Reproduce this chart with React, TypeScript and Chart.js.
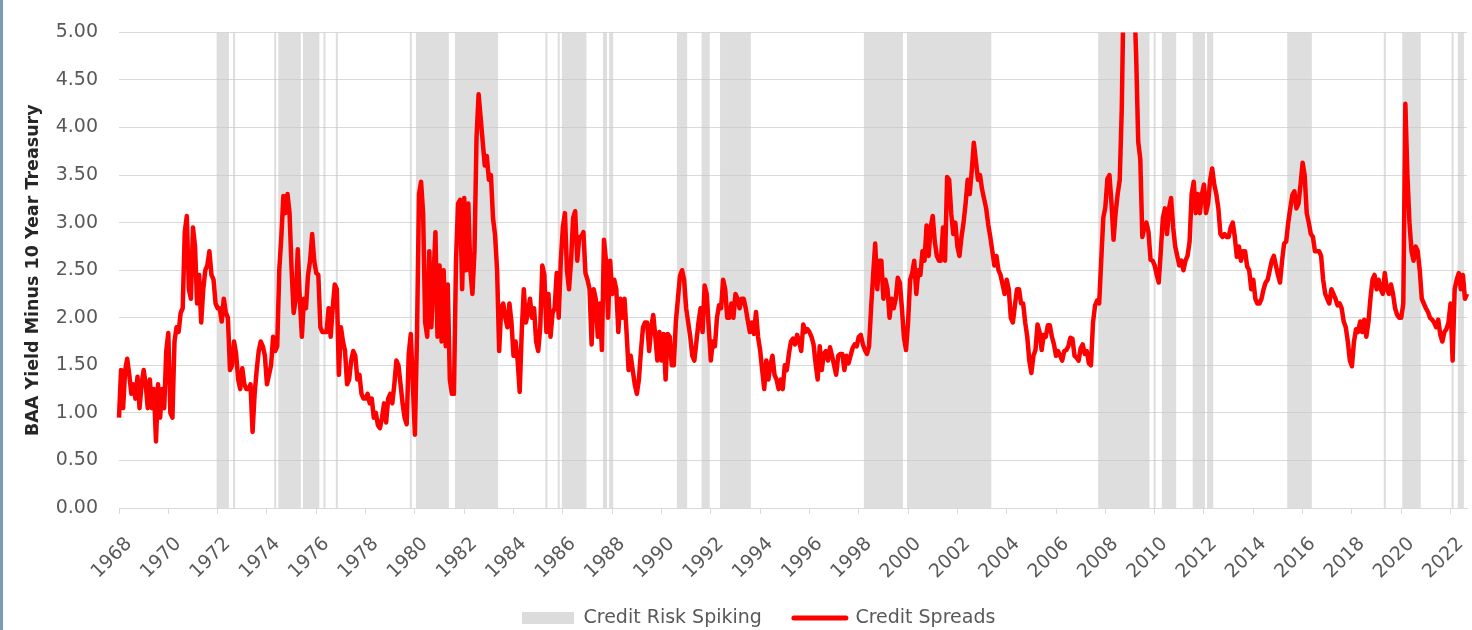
import React, { useEffect, useRef } from 'react';
import { Chart, registerables } from 'chart.js';

Chart.register(...registerables);

// ---------------- DATA ----------------
const START_YEAR = 1968;

// BAA yield minus 10-year Treasury, monthly (Jan..Dec)
const spreads1968to1977 = [
  0.95, 1.45, 1.05, 1.45, 1.57, 1.4, 1.2, 1.3, 1.15, 1.38, 1.05, 1.3,
  1.45, 1.3, 1.05, 1.35, 1.05, 1.25, 0.7, 1.3, 0.95, 1.25, 1.05, 1.65,
  1.84, 1.0, 0.95, 1.75, 1.9, 1.85, 2.05, 2.1, 2.9, 3.07, 2.3, 2.2,
  2.95, 2.75, 2.15, 2.45, 1.95, 2.3, 2.5, 2.55, 2.7, 2.45, 2.4, 2.15,
  2.1, 2.1, 1.96, 2.2, 2.05, 2.0, 1.45, 1.5, 1.75, 1.62, 1.35, 1.25,
  1.47, 1.3, 1.25, 1.25, 1.3, 0.8, 1.2, 1.45, 1.65, 1.75, 1.7, 1.6,
  1.3, 1.4, 1.5, 1.8, 1.65, 1.7, 2.5, 2.85, 3.28, 3.1, 3.3, 3.1,
  2.5, 2.05, 2.2, 2.72, 2.2, 1.8, 2.2, 2.1, 2.45, 2.6, 2.88, 2.6,
  2.47, 2.45, 1.9, 1.85, 1.85, 1.85, 2.1, 1.8, 2.1, 2.35, 2.3, 1.4,
  1.9, 1.75, 1.65, 1.3, 1.35, 1.55, 1.65, 1.6, 1.35, 1.4, 1.2, 1.15,
];
const spreads1978to1987 = [
  1.15, 1.2, 1.1, 1.15, 0.95, 1.0, 0.87, 0.84, 0.95, 1.1, 0.9, 1.15,
  1.2, 1.1, 1.3, 1.55, 1.5, 1.3, 1.1, 0.95, 0.88, 1.62, 1.83, 1.3,
  0.77, 1.8, 3.3, 3.43, 3.1, 1.95, 1.8, 2.7, 1.9, 2.4, 2.9, 1.8,
  2.55, 1.75, 2.5, 1.7, 2.35, 1.35, 1.2, 1.2, 2.6, 3.2, 3.24, 2.3,
  3.26, 2.5, 3.2, 2.5, 2.25, 2.7, 3.9, 4.35, 4.1, 3.85, 3.6, 3.7,
  3.45, 3.5, 3.05, 2.87, 2.5, 1.65, 2.1, 2.15, 2.0, 1.9, 2.15, 1.95,
  1.6, 1.75, 1.55, 1.22, 1.86, 2.3, 1.95, 2.05, 2.2, 2.0, 2.1, 1.75,
  1.65, 1.9, 2.55, 2.45, 1.85, 2.25, 1.8, 2.05, 2.1, 2.47, 2.0, 2.6,
  2.95, 3.1, 2.5, 2.3, 2.6, 3.05, 3.12, 2.6, 2.85, 2.85, 2.9, 2.47,
  2.4, 2.3, 1.72, 2.3, 2.2, 1.8, 2.15, 1.66, 2.82, 2.6, 2.0, 2.6,
];
const spreads1988to1997 = [
  2.25, 2.4, 2.3, 1.85, 2.2, 2.0, 2.2, 1.85, 1.45, 1.6, 1.45, 1.3,
  1.2, 1.35, 1.65, 1.9, 1.95, 1.95, 1.65, 1.9, 2.03, 1.8, 1.55, 1.85,
  1.55, 1.83, 1.35, 1.83, 1.8, 1.5, 1.5, 1.96, 2.2, 2.44, 2.5, 2.4,
  2.1, 1.95, 1.8, 1.6, 1.55, 1.75, 1.95, 2.1, 1.85, 2.34, 2.25, 1.9,
  1.55, 1.75, 1.7, 2.0, 2.13, 2.1, 2.4, 2.3, 2.0, 2.0, 2.15, 2.0,
  2.25, 2.2, 2.1, 2.2, 2.2, 2.1, 1.97, 1.85, 1.95, 1.83, 2.06, 1.8,
  1.66, 1.45, 1.25, 1.55, 1.35, 1.5, 1.6, 1.4, 1.35, 1.25, 1.35, 1.25,
  1.5, 1.45, 1.62, 1.75, 1.78, 1.72, 1.82, 1.75, 1.65, 1.93, 1.85, 1.88,
  1.85, 1.8, 1.72, 1.52, 1.35, 1.7, 1.45, 1.62, 1.65, 1.55, 1.69, 1.6,
  1.5, 1.4, 1.6, 1.62, 1.62, 1.45, 1.6, 1.52, 1.6, 1.68, 1.72, 1.7,
];
const spreads1998to2007 = [
  1.8, 1.82, 1.72, 1.66, 1.62, 1.7, 2.1, 2.45, 2.78, 2.3, 2.6, 2.6,
  2.2, 2.4, 2.3, 2.0, 2.2, 2.1, 2.2, 2.42, 2.37, 2.1, 1.79, 1.66,
  1.95, 2.4, 2.47, 2.6, 2.25, 2.5, 2.45, 2.7, 2.6, 2.97, 2.65, 2.95,
  3.07, 2.8, 2.65, 2.6, 2.6, 2.95, 2.6, 3.48, 3.45, 3.1, 2.88, 3.0,
  2.75, 2.65, 2.85, 3.0, 3.2, 3.45, 3.3, 3.55, 3.84, 3.65, 3.45, 3.5,
  3.35, 3.25, 3.15, 2.98, 2.85, 2.7, 2.55, 2.65, 2.5, 2.45, 2.35, 2.25,
  2.4, 2.3, 2.0, 1.95, 2.13, 2.3, 2.3, 2.15, 2.15, 1.95, 1.8, 1.55,
  1.42, 1.6, 1.66, 1.93, 1.85, 1.66, 1.82, 1.8, 1.92, 1.92, 1.8, 1.72,
  1.6, 1.65, 1.6, 1.55, 1.65, 1.66, 1.7, 1.79, 1.78, 1.6, 1.58, 1.55,
  1.68, 1.72, 1.62, 1.65, 1.52, 1.5, 1.95, 2.13, 2.18, 2.15, 2.6, 3.05,
];
const spreads2008to2017 = [
  3.16, 3.46, 3.5, 3.2, 2.82, 3.1, 3.3, 3.45, 4.2, 5.6, 6.0, 6.1,
  5.9, 5.7, 5.4, 4.75, 3.85, 3.67, 2.85, 2.95, 3.0, 2.9, 2.61, 2.6,
  2.55, 2.45, 2.37, 2.7, 3.05, 3.15, 2.88, 3.15, 3.26, 2.95, 2.75, 2.65,
  2.55, 2.6, 2.5, 2.6, 2.65, 2.8, 3.3, 3.43, 3.1, 3.3, 3.1, 3.3,
  3.4, 3.1, 3.2, 3.45, 3.57, 3.4, 3.3, 3.15, 2.88, 2.85, 2.88, 2.85,
  2.85, 2.95, 3.0, 2.85, 2.64, 2.75, 2.6, 2.7, 2.7, 2.54, 2.5, 2.3,
  2.4, 2.2, 2.15, 2.15, 2.2, 2.3, 2.37, 2.4, 2.5, 2.6, 2.65, 2.55,
  2.45, 2.37, 2.6, 2.78, 2.8, 3.0, 3.15, 3.29, 3.33, 3.15, 3.2, 3.4,
  3.63, 3.5, 3.1, 3.0, 2.88, 2.85, 2.7, 2.7, 2.7, 2.65, 2.4, 2.25,
  2.2, 2.15, 2.3, 2.25, 2.2, 2.13, 2.15, 2.1, 1.96, 1.9, 1.75, 1.55,
];
const spreads2018to2022 = [
  1.49, 1.75, 1.88, 1.85, 1.96, 1.85, 1.98, 1.8, 1.95, 2.2, 2.4, 2.45,
  2.3, 2.4, 2.3, 2.25, 2.47, 2.3, 2.25, 2.35, 2.25, 2.1, 2.03, 2.0,
  2.0, 2.15, 4.25, 3.5, 3.0, 2.7, 2.6, 2.75, 2.7, 2.5, 2.2, 2.15,
  2.1, 2.06, 2.0, 1.98, 1.95, 1.9, 1.98, 1.82, 1.75, 1.85, 1.88, 1.95,
  2.15, 1.55, 2.3, 2.4, 2.47, 2.3, 2.45, 2.2, 2.25,
];

// "Credit Risk Spiking" periods (first month, last month), inclusive
const spikeRanges: [string, string][] = [
  ['1972-01', '1972-06'], ['1972-09', '1972-09'], ['1974-05', '1974-05'],
  ['1974-07', '1975-05'], ['1975-07', '1975-07'], ['1975-08', '1976-02'],
  ['1976-05', '1976-05'], ['1976-11', '1976-11'], ['1979-11', '1979-11'],
  ['1980-02', '1981-05'], ['1981-09', '1983-05'], ['1985-05', '1985-05'],
  ['1985-11', '1985-11'], ['1986-01', '1986-12'], ['1987-09', '1987-10'],
  ['1987-12', '1988-01'], ['1990-09', '1991-01'], ['1991-09', '1991-12'],
  ['1992-06', '1993-08'], ['1998-04', '1999-10'], ['2000-01', '2003-05'],
  ['2007-10', '2009-10'], ['2010-01', '2010-01'], ['2010-05', '2010-11'],
  ['2011-08', '2012-01'], ['2012-03', '2012-05'], ['2015-06', '2016-05'],
  ['2019-05', '2019-05'], ['2020-02', '2020-10'], ['2022-02', '2022-02'],
  ['2022-05', '2022-07'],
];

const xTickYears = [
  '1968', '1970', '1972', '1974', '1976', '1978', '1980', '1982', '1984', '1986',
  '1988', '1990', '1992', '1994', '1996', '1998', '2000', '2002', '2004', '2006',
  '2008', '2010', '2012', '2014', '2016', '2018', '2020', '2022',
];
const yTickValues = [0, 0.5, 1, 1.5, 2, 2.5, 3, 3.5, 4, 4.5, 5];

const SPIKE_LEVEL = 5;

// ---------------- DERIVED TABLES ----------------
const creditSpreads = [
  ...spreads1968to1977, ...spreads1978to1987, ...spreads1988to1997,
  ...spreads1998to2007, ...spreads2008to2017, ...spreads2018to2022,
];
const monthLabels = creditSpreads.map(
  (_, i) => `${START_YEAR + Math.floor(i / 12)}-${String((i % 12) + 1).padStart(2, '0')}`
);
const monthX = creditSpreads.map((_, i) => START_YEAR + i / 12);
const spreadPoints = creditSpreads.map((v, i) => ({ x: monthX[i], y: v }));
const spikePoints = monthLabels.map((l, i) => ({
  x: monthX[i],
  y: spikeRanges.some(([a, b]) => l >= a && l <= b) ? SPIKE_LEVEL : 0,
}));

const FONT = 'DejaVu Sans';
const TEXT_GREY = '#595959';
const GRID = '#d9d9d9';
const SHADE = 'rgba(200,200,200,0.6)';
const SHADE_SOLID = '#dcdcdc';
const RED = '#ff0000';

const LEGEND_HEIGHT = 20;

const legendPlacer = {
  id: 'legendPlacer',
  afterLayout(chart: any) {
    const lg = chart.legend;
    if (!lg || !lg.lineWidths) return;
    const pad = lg.options.labels.padding;
    const size = lg.options.labels.font.size;
    lg.top = 618 - pad - size / 2;
    lg.height = pad * 2 + size;
    lg.bottom = lg.top + lg.height;
    const x0 = (lg.left + pad + lg.right - lg.lineWidths[0]) / 2;
    const dx = 522 - x0;
    lg.left += dx;
    lg.right += dx;
  },
};

export default function App() {
  const ref = useRef<HTMLCanvasElement | null>(null);

  useEffect(() => {
    document.body.style.margin = '0';
    const canvas = ref.current;
    if (!canvas) return;
    const chart = new Chart(canvas, {
      type: 'line',
      data: {
        datasets: [
          {
            label: 'Credit Risk Spiking',
            data: spikePoints,
            stepped: 'middle',
            fill: 'origin',
            backgroundColor: SHADE,
            borderColor: 'rgba(0,0,0,0)',
            borderWidth: 0,
            pointRadius: 0,
            order: 2,
          },
          {
            label: 'Credit Spreads',
            data: spreadPoints,
            borderColor: RED,
            borderWidth: 4.5,
            borderJoinStyle: 'round',
            pointRadius: 0,
            fill: false,
            tension: 0,
            clip: { left: 5, right: 5, top: 0, bottom: 5 } as any,
            order: 1,
          },
        ],
      },
      options: {
        responsive: false,
        animation: false,
        events: [],
        layout: { padding: { top: 20, right: 5, left: 0, bottom: 0 } },
        plugins: {
          tooltip: { enabled: false },
          legend: {
            position: 'bottom',
            maxHeight: LEGEND_HEIGHT,
            labels: {
              usePointStyle: true,
              pointStyleWidth: 52,
              boxHeight: 12,
              padding: 32,
              color: TEXT_GREY,
              font: { family: FONT, size: 19 },
              generateLabels: () => [
                {
                  text: 'Credit Risk Spiking',
                  fillStyle: SHADE_SOLID,
                  strokeStyle: SHADE_SOLID,
                  lineWidth: 0,
                  pointStyle: 'rect',
                  fontColor: TEXT_GREY,
                  hidden: false,
                  datasetIndex: 0,
                },
                {
                  text: 'Credit Spreads',
                  fillStyle: RED,
                  strokeStyle: RED,
                  lineWidth: 5,
                  lineCap: 'round',
                  pointStyle: 'line',
                  fontColor: TEXT_GREY,
                  hidden: false,
                  datasetIndex: 1,
                },
              ] as any,
            },
          },
        },
        scales: {
          x: {
            type: 'linear',
            min: monthX[0],
            max: monthX[monthX.length - 1],
            afterBuildTicks: (s: any) => {
              s.ticks = xTickYears.map((y) => ({ value: Number(y) }));
            },
            grid: {
              drawOnChartArea: false,
              drawTicks: true,
              tickLength: 6,
              color: GRID,
            },
            border: { display: true, color: GRID },
            ticks: {
              autoSkip: false,
              maxRotation: 45,
              minRotation: 45,
              padding: 19,
              labelOffset: 10,
              color: TEXT_GREY,
              font: { family: FONT, size: 19 },
              callback: (v: any) => String(v),
            },
            afterFit: (s: any) => {
              s.height = 630 - 508 - LEGEND_HEIGHT;
              s.paddingLeft = 0;
              s.paddingRight = 0;
            },
          },
          y: {
            min: 0,
            max: 5,
            afterBuildTicks: (s: any) => {
              s.ticks = yTickValues.map((v) => ({ value: v }));
            },
            ticks: {
              color: TEXT_GREY,
              font: { family: FONT, size: 19 },
              padding: 21,
              callback: (v: any) => Number(v).toFixed(2),
            },
            grid: { color: GRID, drawTicks: false },
            border: { display: false },
            title: {
              display: true,
              text: 'BAA Yield Minus 10 Year Treasury',
              color: '#262626',
              font: { family: FONT, size: 17.5, weight: 'bold' },
              padding: { top: 23, bottom: 0 },
            },
            afterFit: (s: any) => {
              s.width = 119;
            },
          },
        },
      },
      plugins: [legendPlacer],
    });
    return () => chart.destroy();
  }, []);

  return (
    <div
      style={{
        position: 'fixed',
        left: 0,
        top: 0,
        width: 1472,
        height: 630,
        background: '#ffffff',
        overflow: 'hidden',
      }}
    >
      <canvas ref={ref} width={1472} height={630} style={{ display: 'block', position: 'absolute', left: 0, top: 0 }} />
      <div style={{ position: 'absolute', left: 0, top: 0, width: 3, height: 630, background: '#7b9bb7' }} />
    </div>
  );
}
